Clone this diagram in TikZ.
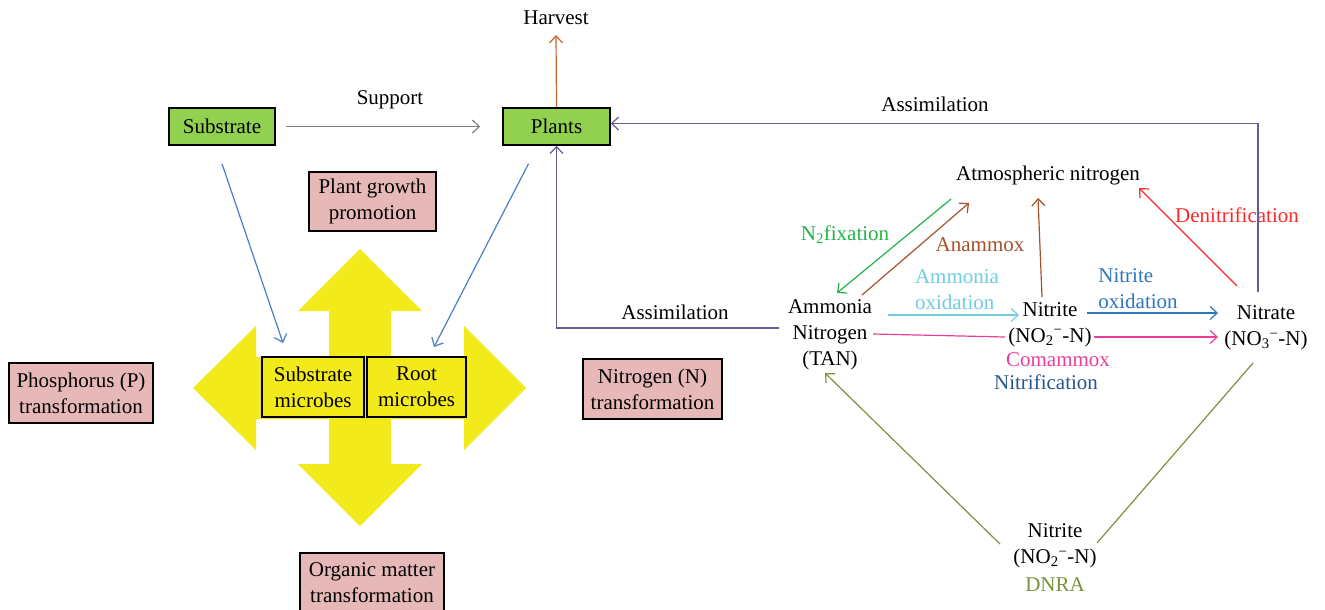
\documentclass[tikz,border=0pt]{standalone}
\usepackage{fontspec}
\setmainfont{Liberation Serif}
\usetikzlibrary{arrows.meta}
\definecolor{boxgreen}{HTML}{92D050}
\definecolor{boxpink}{HTML}{E6B9B8}
\definecolor{crossyellow}{HTML}{F2EA1A}
\definecolor{bluec}{HTML}{4A7EC8}
\definecolor{grayc}{HTML}{808080}
\definecolor{harvestc}{HTML}{C8642E}
\definecolor{purplec}{HTML}{6B5A98}
\definecolor{fixc}{HTML}{22B24C}
\definecolor{anamc}{HTML}{A5522A}
\definecolor{denitc}{HTML}{FF2828}
\definecolor{cyanc}{HTML}{6FCDE0}
\definecolor{nitoxc}{HTML}{2E75C0}
\definecolor{comc}{HTML}{E8409A}
\definecolor{nitrifc}{HTML}{24568F}
\definecolor{olivec}{HTML}{77933C}
\begin{document}
\begin{tikzpicture}[x=1pt,y=-1pt,
  every node/.style={font=\fontsize{21}{26}\selectfont, inner sep=0pt, align=center},
  greenbox/.style={draw=black, line width=1.5pt, fill=boxgreen, minimum width=106pt, minimum height=37pt},
  pinkbox/.style={draw=black, line width=1.5pt, fill=boxpink, minimum height=60pt},
  yellowbox/.style={draw=black, line width=1.5pt, fill=crossyellow, minimum height=60pt},
  conn/.style={line width=1.2pt, -{Straight Barb[length=7pt,width=13pt]}},
  plainline/.style={line width=1.2pt}
]
\useasboundingbox (0,0) rectangle (1325,610);
% yellow cross
\fill[crossyellow] (360,249) -- (422,311) -- (391,311) -- (391,357) -- (464,357) -- (464,326)
  -- (526,388) -- (464,450) -- (464,419) -- (391,419) -- (391,464) -- (422,464)
  -- (360,526) -- (298,464) -- (329,464) -- (329,419) -- (256,419) -- (256,450)
  -- (193,388) -- (256,326) -- (256,357) -- (329,357) -- (329,311) -- (298,311) -- cycle;

% boxes
\node[greenbox] (substrate) at (222,126.5) {Substrate};
\node[greenbox, minimum width=107pt] (plants) at (556.5,126.5) {Plants};
\node[pinkbox, minimum width=127pt, minimum height=59pt] (pgp) at (372.5,201.5) {Plant growth\\promotion};
\node[pinkbox, minimum width=144pt] (phos) at (81,393) {Phosphorus (P)\\transformation};
\node[pinkbox, minimum width=139pt] (ntrans) at (652.5,389) {Nitrogen (N)\\transformation};
\node[pinkbox, minimum width=144pt] (organic) at (372,583) {Organic matter\\transformation};
\node[yellowbox, minimum width=102pt] (submic) at (313,387) {Substrate\\microbes};
\node[yellowbox, minimum width=99pt] (rootmic) at (416.5,387) {Root\\microbes};

% text nodes
\node (harvest) at (556,18) {Harvest};
\node (support) at (390,100) {Support};
\node (assim1) at (935,104) {Assimilation};
\node (assim2) at (675,312) {Assimilation};
\node (atm) at (1048,175) {Atmospheric nitrogen};
\node (tan) at (830,335) {Ammonia\\Nitrogen\\(TAN)};
\node (nit) at (1050,324.5) {Nitrite\\(NO\textsubscript{2}\textsuperscript{−}-N)};
\node (nitrate) at (1266,328) {Nitrate\\(NO\textsubscript{3}\textsuperscript{−}-N)};
\node (nit2) at (1055,546) {Nitrite\\(NO\textsubscript{2}\textsuperscript{−}-N)};
\node[text=olivec] (dnra) at (1055,585) {DNRA};
\node[text=fixc] (fixlab) at (845,235) {N\textsubscript{2}fixation};
\node[text=anamc] (anamlab) at (980,245) {Anammox};
\node[text=denitc] (denitlab) at (1237,215) {Denitrification};
\node[text=cyanc, align=left] (aoxlab) at (957,290) {Ammonia\\oxidation};
\node[text=nitoxc, align=left] (noxlab) at (1138,289) {Nitrite\\oxidation};
\node[text=comc] (comlab) at (1058,360) {Comammox};
\node[text=nitrifc] (nitriflab) at (1046,382) {Nitrification};

% connectors, left part
\draw[conn, grayc] ([xshift=10pt]substrate.east) -- ([xshift=-22pt]plants.west);
\draw[conn, harvestc] (plants.north) -- ([yshift=-17pt]harvest.center);
\draw[conn, bluec] ([yshift=-18pt]substrate.south) -- ([shift={(-30,-44)}]submic.center);
\draw[conn, bluec] ([shift={(-28,18)}]plants.south) -- ([shift={(17.5,-40)}]rootmic.center);
\draw[conn, purplec] ([shift={(-51,-7)}]tan.center) -| (plants.south);
\draw[conn, purplec] ([shift={(-8,-36)}]nitrate.center) |- ([yshift=3pt]plants.east);

% nitrogen cycle
\draw[conn, fixc] ([shift={(-97,24)}]atm.center) -- ([shift={(7,-42)}]tan.center);
\draw[conn, anamc] ([shift={(32,-40)}]tan.center) -- ([shift={(-79,28)}]atm.center);
\draw[conn, anamc] ([shift={(-8,-27.5)}]nit.center) -- ([shift={(-10,23)}]atm.center);
\draw[conn, denitc] ([shift={(-29,-42)}]nitrate.center) -- ([shift={(91,13)}]atm.center);
\draw[conn, cyanc] ([shift={(58,-20)}]tan.center) -- ([shift={(-31,-9.5)}]nit.center);
\draw[conn, nitoxc] ([shift={(37,-11.5)}]nit.center) -- ([shift={(-48,-15)}]nitrate.center);
\draw[plainline, comc] ([shift={(43,-1)}]tan.center) -- ([shift={(-45,12.5)}]nit.center);
\draw[conn, comc] ([shift={(44,12.5)}]nit.center) -- ([shift={(-48,9)}]nitrate.center);
\draw[conn, olivec] ([shift={(-55,-2)}]nit2.center) -- ([shift={(-5,38)}]tan.center);
\draw[plainline, olivec] ([shift={(-13,35)}]nitrate.center) -- ([shift={(42,-3)}]nit2.center);
\end{tikzpicture}
\end{document}
